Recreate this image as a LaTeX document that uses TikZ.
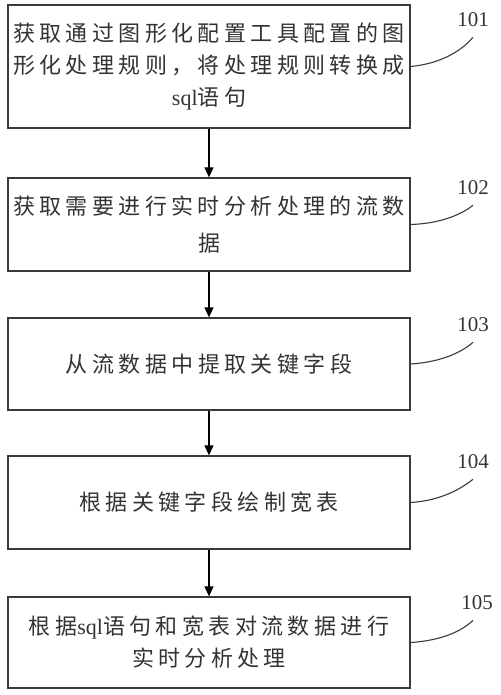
\documentclass[tikz,border=0pt]{standalone}
\usepackage{fontspec}
\setmainfont{Liberation Serif}
\newfontfamily\cjk[LetterSpace=20]{Noto Sans CJK SC}
\usetikzlibrary{arrows.meta}
\definecolor{boxc}{HTML}{3A3A3A}
\definecolor{txtc}{HTML}{333333}
\begin{document}
\begin{tikzpicture}[x=1pt,y=-1pt,
  stepbox/.style={draw=boxc, line width=1.3pt, minimum width=402pt, text width=402pt,
    align=center, inner sep=0pt, font=\cjk\fontsize{22}{32}\selectfont, text=txtc},
  flow/.style={draw=black, line width=1.2pt, -{Triangle[width=9pt,length=10pt]}},
  num/.style={font=\rmfamily\fontsize{21}{21}\selectfont, text=txtc, inner sep=1pt},
  tag/.style={draw=boxc, line width=1.1pt}]
\useasboundingbox (0,0) rectangle (500,695);
\node[stepbox, minimum height=123pt] (b1) at (209,66.5)
  {获取通过图形化配置工具配置的图\\形化处理规则，将处理规则转换成\\{\rmfamily sql}语句};
\node[stepbox, minimum height=93pt, font=\cjk\fontsize{22}{37}\selectfont] (b2) at (209,224.5)
  {获取需要进行实时分析处理的流数\\据};
\node[stepbox, minimum height=92pt] (b3) at (209,364) {从流数据中提取关键字段};
\node[stepbox, minimum height=93pt] (b4) at (209,502.5) {根据关键字段绘制宽表};
\node[stepbox, minimum height=91pt] (b5) at (209,642.5)
  {根据{\rmfamily sql}语句和宽表对流数据进行\\实时分析处理};
\draw[flow] (b1) -- (b2);
\draw[flow] (b2) -- (b3);
\draw[flow] (b3) -- (b4);
\draw[flow] (b4) -- (b5);
\node[num] (l1) at (473,20) {101};
\node[num] (l2) at (473,188) {102};
\node[num] (l3) at (473,325) {103};
\node[num] (l4) at (473,462) {104};
\node[num] (l5) at (477,603) {105};
\draw[tag] (b1.east) .. controls +(32,-3) and +(-10,12) .. ([yshift=-9pt]l1.south);
\draw[tag] (b2.east) .. controls +(32,-1) and +(-10,8) .. ([yshift=-9pt]l2.south);
\draw[tag] (b3.east) .. controls +(32,-2) and +(-10,9) .. ([yshift=-9pt]l3.south);
\draw[tag] (b4.east) .. controls +(32,-2) and +(-10,8) .. ([yshift=-9pt]l4.south);
\draw[tag] (b5.east) .. controls +(32,-2) and +(-10,10) .. ([xshift=-4pt,yshift=-9pt]l5.south);
\end{tikzpicture}
\end{document}
